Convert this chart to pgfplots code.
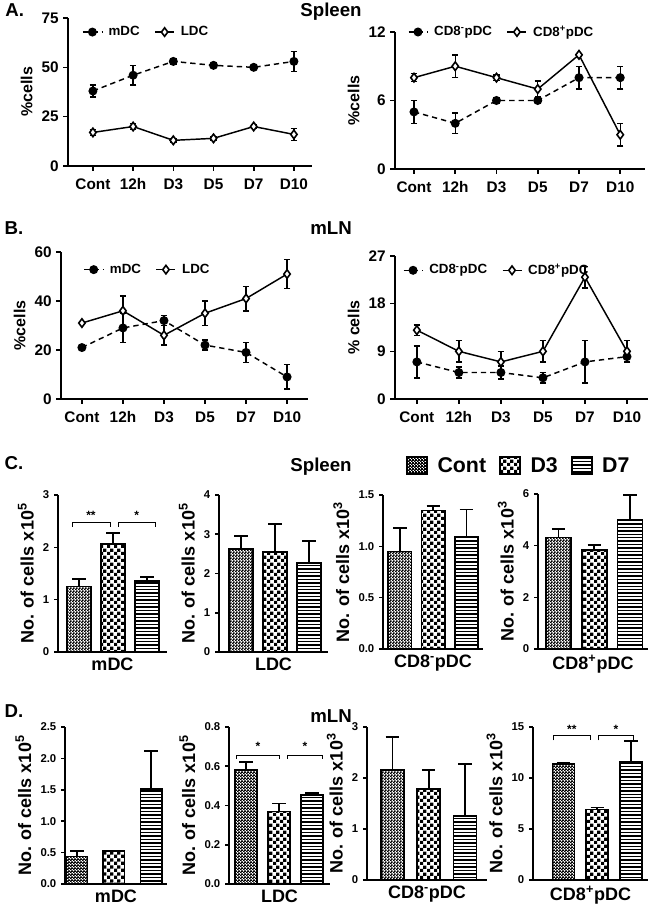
\documentclass[border=0pt]{standalone}
\usepackage{fontspec}
\setmainfont{Liberation Sans}
\usepackage{pgfplots}
\pgfplotsset{compat=1.18}
\usetikzlibrary{patterns}

\pgfdeclarepatternformonly{finecheck}{\pgfpointorigin}{\pgfqpoint{2pt}{2pt}}{\pgfqpoint{2pt}{2pt}}{%
  \pgfpathrectangle{\pgfpointorigin}{\pgfqpoint{1.25pt}{1.25pt}}%
  \pgfpathrectangle{\pgfqpoint{1pt}{1pt}}{\pgfqpoint{1.25pt}{1.25pt}}%
  \pgfusepath{fill}}
\pgfdeclarepatternformonly{coarsecheck}{\pgfpointorigin}{\pgfqpoint{5pt}{5pt}}{\pgfqpoint{5pt}{5pt}}{%
  \pgfpathrectangle{\pgfpointorigin}{\pgfqpoint{2.5pt}{2.5pt}}%
  \pgfpathrectangle{\pgfqpoint{2.5pt}{2.5pt}}{\pgfqpoint{2.5pt}{2.5pt}}%
  \pgfusepath{fill}}
\pgfdeclarepatternformonly{hlinesb}{\pgfpointorigin}{\pgfqpoint{100pt}{1.2pt}}{\pgfqpoint{100pt}{2.6pt}}{%
  \pgfsetlinewidth{1.1pt}%
  \pgfpathmoveto{\pgfqpoint{0pt}{0.6pt}}\pgfpathlineto{\pgfqpoint{100pt}{0.6pt}}%
  \pgfusepath{stroke}}

\pgfplotsset{
  gpbase/.style={
    scale only axis, clip=false,
    axis lines=left,
    axis line style={line width=1.2pt,-},
    every tick/.style={black, line width=1.2pt},
    tick align=outside,
    major tick length=3.5pt,
    /pgf/number format/assume math mode=true,
    ymin=0,
  },
  lineax/.style={gpbase,
    xtick={0,1,2,3,4,5},
    xticklabels={Cont,12h,D3,D5,D7,D10},
    tick label style={font=\bfseries\fontsize{11.5}{13}\selectfont},
    xticklabel style={yshift=-2.5pt},
    ylabel style={font=\bfseries\fontsize{12}{14}\selectfont},
    legend style={draw=none, fill=none, legend columns=2, anchor=west, inner sep=0pt,
      font=\bfseries\fontsize{10}{12}\selectfont,
      /tikz/every odd column/.append style={column sep=2.5pt},
      /tikz/every even column/.append style={column sep=9pt}},
    legend image code/.code={\draw[mark repeat=2,mark phase=2,##1] plot coordinates {(0cm,0cm) (0.25cm,0cm) (0.5cm,0cm)};},
  },
  barax/.style={gpbase,
    xtick=\empty,
    major tick length=3pt,
    ylabel={No. of cells x10\textsuperscript{#1}},
    tick label style={font=\bfseries\fontsize{8.5}{10}\selectfont},
    ylabel style={font=\bfseries\fontsize{13.5}{15}\selectfont},
    xlabel style={font=\bfseries\fontsize{13.5}{15}\selectfont, at={(axis description cs:0.5,0)}, anchor=north, yshift=-1pt},
  },
  dashser/.style={black, line width=1.1pt, dash pattern=on 4pt off 3pt,
    mark=*, mark size=2.8pt, mark options={solid, fill=black},
    error bars/y dir=both, error bars/y explicit,
    error bars/error bar style={line width=1.1pt, solid},
    error bars/error mark options={rotate=90, mark size=2.4pt, line width=1.1pt, solid}},
  solidser/.style={black, line width=1.1pt, solid,
    mark=diamond*, mark size=3.2pt, mark options={solid, fill=white, line width=1.2pt},
    error bars/y dir=both, error bars/y explicit,
    error bars/error bar style={line width=1.1pt, solid},
    error bars/error mark options={rotate=90, mark size=2.4pt, line width=1.1pt, solid}},
  cbar/.style={ybar, bar shift=0pt, draw=black, line width=1.3pt, pattern color=black,
    error bars/y dir=plus, error bars/y explicit,
    error bars/error bar style={line width=1.3pt},
    error bars/error mark options={rotate=90, mark size=5pt, line width=1.3pt}},
  cleg/.style={legend image code/.code={\draw[##1] (0pt,-6pt) rectangle (15pt,7pt);}},
}

\newcommand{\sig}[5]{% x1 x2 ybottom ytop label
  \draw[line width=0.6pt] (axis cs:#1,#3) -- (axis cs:#1,#4) -- (axis cs:#2,#4) -- (axis cs:#2,#3);}

\begin{document}
\begin{tikzpicture}
\path[use as bounding box] (0,0) rectangle (487.5pt,679.5pt);

% panel labels and titles
\node[anchor=west, font=\bfseries\fontsize{14}{16}\selectfont] at (0.5pt,672pt) {A.};
\node[font=\bfseries\fontsize{14}{16}\selectfont] at (248.25pt,670.5pt) {Spleen};
\node[anchor=west, font=\bfseries\fontsize{14}{16}\selectfont] at (0pt,508.5pt) {B.};
\node[font=\bfseries\fontsize{14}{16}\selectfont] at (248.25pt,508.5pt) {mLN};
\node[anchor=west, font=\bfseries\fontsize{14}{16}\selectfont] at (0pt,332.25pt) {C.};
\node[font=\bfseries\fontsize{14}{16}\selectfont] at (240.75pt,329.25pt) {Spleen};
\node[anchor=west, font=\bfseries\fontsize{14}{16}\selectfont] at (0pt,146.25pt) {D.};
\node[font=\bfseries\fontsize{14}{16}\selectfont] at (248.25pt,142.5pt) {mLN};

% ---------- A left
\begin{axis}[lineax, at={(51pt,555pt)}, anchor=south west, width=183pt, height=111pt,
  xmin=-0.62, xmax=5.45, ymax=75, ytick={0,25,50,75}, ylabel={\%cells},
  legend style={at={(0.057,0.905)}}]
\addplot[dashser] coordinates {(0,38)+-(0,3) (1,46)+-(0,5) (2,53)+-(0,1.2) (3,51)+-(0,0.8) (4,50)+-(0,0.8) (5,53)+-(0,5)};
\addplot[solidser] coordinates {(0,17)+-(0,1.5) (1,20)+-(0,1.5) (2,13)+-(0,0.8) (3,14)+-(0,0.8) (4,20)+-(0,1) (5,16)+-(0,3)};
\legend{mDC, LDC}
\end{axis}

% ---------- A right
\begin{axis}[lineax, at={(296.25pt,552.75pt)}, anchor=south west, width=187.5pt, height=102.75pt,
  xmin=-0.46, xmax=5.6, ymax=12, ytick={0,6,12}, ylabel={\%cells},
  legend style={at={(0.05,1.0)}}]
\addplot[dashser] coordinates {(0,5)+-(0,1) (1,4)+-(0,0.9) (2,6)+-(0,0.2) (3,6)+-(0,0.2) (4,8)+-(0,1) (5,8)+-(0,1)};
\addplot[solidser] coordinates {(0,8)+-(0,0.35) (1,9)+-(0,1) (2,8)+-(0,0.25) (3,7)+-(0,0.7) (4,10)+-(0,0.1) (5,3)+-(0,1)};
\legend{CD8\textsuperscript{-}pDC, CD8\textsuperscript{+}pDC}
\end{axis}

% ---------- B left
\begin{axis}[lineax, at={(45.75pt,380.25pt)}, anchor=south west, width=185.25pt, height=110.25pt,
  xmin=-0.51, xmax=5.51, ymax=60, ytick={0,20,40,60}, ylabel={\%cells},
  legend style={at={(0.09,0.88)}}]
\addplot[dashser] coordinates {(0,21)+-(0,0.5) (1,29)+-(0,6) (2,32)+-(0,2) (3,22)+-(0,2) (4,19)+-(0,4) (5,9)+-(0,5)};
\addplot[solidser] coordinates {(0,31)+-(0,0.5) (1,36)+-(0,6) (2,26)+-(0,4) (3,35)+-(0,5) (4,41)+-(0,5) (5,51)+-(0,6)};
\legend{mDC, LDC}
\end{axis}

% ---------- B right
\begin{axis}[lineax, at={(296.25pt,380.25pt)}, anchor=south west, width=189.75pt, height=107.25pt,
  xmin=-0.52, xmax=5.5, ymax=27, ytick={0,9,18,27}, ylabel={\% cells},
  legend style={at={(0.03,0.9)}}]
\addplot[dashser] coordinates {(0,7)+-(0,3) (1,5)+-(0,1) (2,5)+-(0,1.2) (3,4)+-(0,1) (4,7)+-(0,4) (5,8)+-(0,1)};
\addplot[solidser] coordinates {(0,13)+-(0,1) (1,9)+-(0,2) (2,7)+-(0,2) (3,9)+-(0,2) (4,23)+-(0,2) (5,9)+-(0,2)};
\legend{CD8\textsuperscript{-}pDC, CD8\textsuperscript{+}pDC}
\end{axis}

% ---------- C1
\begin{axis}[barax=5, at={(43.5pt,190.5pt)}, anchor=south west, width=81.75pt, height=117.75pt,
  xmin=-0.62, xmax=2.59, ymax=3, ytick={0,1,2,3}, xlabel={mDC}]
\addplot[cbar, bar width=18pt, pattern=finecheck] coordinates {(0,1.25)+-(0,0.15)};
\addplot[cbar, bar width=18pt, pattern=coarsecheck] coordinates {(1,2.07)+-(0,0.2)};
\addplot[cbar, bar width=18pt, pattern=hlinesb] coordinates {(2,1.35)+-(0,0.08)};
\sig{-0.2}{0.91}{2.39}{2.47}{}
\sig{1.15}{2.26}{2.39}{2.47}{}
\node[font=\bfseries\fontsize{9}{10}\selectfont] at (axis cs:0.35,2.62) {**};
\node[font=\bfseries\fontsize{9}{10}\selectfont] at (axis cs:1.70,2.62) {*};
\end{axis}

% ---------- C2
\begin{axis}[barax=5, at={(164.25pt,190.5pt)}, anchor=south west, width=81.75pt, height=117.75pt,
  xmin=-0.65, xmax=2.56, ymax=4, ytick={0,1,2,3,4}, xlabel={LDC}]
\addplot[cbar, bar width=18pt, pattern=finecheck] coordinates {(0,2.63)+-(0,0.32)};
\addplot[cbar, bar width=18pt, pattern=coarsecheck] coordinates {(1,2.55)+-(0,0.72)};
\addplot[cbar, bar width=18pt, pattern=hlinesb] coordinates {(2,2.27)+-(0,0.56)};
\end{axis}

% ---------- C3
\begin{axis}[barax=3, at={(287.25pt,192.75pt)}, anchor=south west, width=75pt, height=115.5pt,
  xmin=-0.51, xmax=2.5, ymax=1.5, ytick={0,0.5,1,1.5}, xlabel={CD8\textsuperscript{-}pDC},
  yticklabel style={/pgf/number format/fixed, /pgf/number format/fixed zerofill, /pgf/number format/precision=1}]
\addplot[cbar, bar width=17.5pt, pattern=finecheck] coordinates {(0,0.95)+-(0,0.23)};
\addplot[cbar, bar width=17.5pt, pattern=coarsecheck] coordinates {(1,1.35)+-(0,0.04)};
\addplot[cbar, bar width=17.5pt, pattern=hlinesb] coordinates {(2,1.09)+-(0,0.27)};
\end{axis}

% ---------- C4 (with legend)
\begin{axis}[barax=3, at={(403.5pt,192.75pt)}, anchor=south west, width=82.5pt, height=116.25pt,
  xmin=-0.57, xmax=2.5, ymax=6, ytick={0,2,4,6}, xlabel={CD8\textsuperscript{+}pDC},
  legend style={at={(-0.17,1.18)}, anchor=center, draw=none, fill=none, legend columns=3,
    font=\bfseries\fontsize{16}{18}\selectfont,
    /tikz/every odd column/.append style={column sep=5pt},
    /tikz/every even column/.append style={column sep=8pt}}]
\addplot[cbar, cleg, bar width=18.75pt, pattern=finecheck] coordinates {(0,4.32)+-(0,0.33)};
\addplot[cbar, cleg, bar width=18.75pt, pattern=coarsecheck] coordinates {(1,3.82)+-(0,0.2)};
\addplot[cbar, cleg, bar width=18.75pt, pattern=hlinesb] coordinates {(2,4.98)+-(0,0.97)};
\legend{Cont, D3, D7}
\end{axis}

% ---------- D1
\begin{axis}[barax=5, at={(48.75pt,16.5pt)}, anchor=south west, width=76.5pt, height=117.75pt,
  xmin=-0.32, xmax=2.43, ymax=2.5, ytick={0,0.5,1,1.5,2,2.5}, xlabel={mDC},
  yticklabel style={/pgf/number format/fixed, /pgf/number format/fixed zerofill, /pgf/number format/precision=1}]
\addplot[cbar, bar width=16pt, pattern=finecheck] coordinates {(0,0.44)+-(0,0.08)};
\addplot[cbar, bar width=16pt, pattern=coarsecheck] coordinates {(1,0.53)+-(0,0.005)};
\addplot[cbar, bar width=16pt, pattern=hlinesb] coordinates {(2,1.51)+-(0,0.61)};
\end{axis}

% ---------- D2
\begin{axis}[barax=5, at={(171.75pt,16.5pt)}, anchor=south west, width=75.75pt, height=117.75pt,
  xmin=-0.52, xmax=2.55, ymax=0.8, ytick={0,0.2,0.4,0.6,0.8}, xlabel={LDC},
  yticklabel style={/pgf/number format/fixed, /pgf/number format/fixed zerofill, /pgf/number format/precision=1}]
\addplot[cbar, bar width=16.5pt, pattern=finecheck] coordinates {(0,0.58)+-(0,0.04)};
\addplot[cbar, bar width=16.5pt, pattern=coarsecheck] coordinates {(1,0.37)+-(0,0.04)};
\addplot[cbar, bar width=16.5pt, pattern=hlinesb] coordinates {(2,0.455)+-(0,0.01)};
\sig{-0.28}{1.01}{0.637}{0.657}{}
\sig{1.25}{2.32}{0.637}{0.657}{}
\node[font=\bfseries\fontsize{9}{10}\selectfont] at (axis cs:0.36,0.70) {*};
\node[font=\bfseries\fontsize{9}{10}\selectfont] at (axis cs:1.79,0.70) {*};
\end{axis}

% ---------- D3
\begin{axis}[barax=3, at={(275.25pt,19.5pt)}, anchor=south west, width=90pt, height=114.75pt,
  xmin=-0.70, xmax=2.61, ymax=3, ytick={0,1,2,3}, xlabel={CD8\textsuperscript{-}pDC}]
\addplot[cbar, bar width=17.25pt, pattern=finecheck] coordinates {(0,2.15)+-(0,0.65)};
\addplot[cbar, bar width=17.25pt, pattern=coarsecheck] coordinates {(1,1.79)+-(0,0.36)};
\addplot[cbar, bar width=17.25pt, pattern=hlinesb] coordinates {(2,1.25)+-(0,1.03)};
\end{axis}

% ---------- D4
\begin{axis}[barax=3, at={(399.75pt,19.5pt)}, anchor=south west, width=86.25pt, height=114.75pt,
  xmin=-0.9, xmax=2.5, ymax=15, ytick={0,5,10,15}, xlabel={CD8\textsuperscript{+}pDC}]
\addplot[cbar, bar width=16.5pt, pattern=finecheck] coordinates {(0,11.4)+-(0,0.1)};
\addplot[cbar, bar width=16.5pt, pattern=coarsecheck] coordinates {(1,6.9)+-(0,0.2)};
\addplot[cbar, bar width=16.5pt, pattern=hlinesb] coordinates {(2,11.6)+-(0,2.0)};
\sig{-0.3}{0.81}{13.7}{14.15}{}
\sig{1.03}{2.07}{13.7}{14.15}{}
\node[font=\bfseries\fontsize{9}{10}\selectfont] at (axis cs:0.25,14.8) {**};
\node[font=\bfseries\fontsize{9}{10}\selectfont] at (axis cs:1.55,14.8) {*};
\end{axis}
\end{tikzpicture}
\end{document}
